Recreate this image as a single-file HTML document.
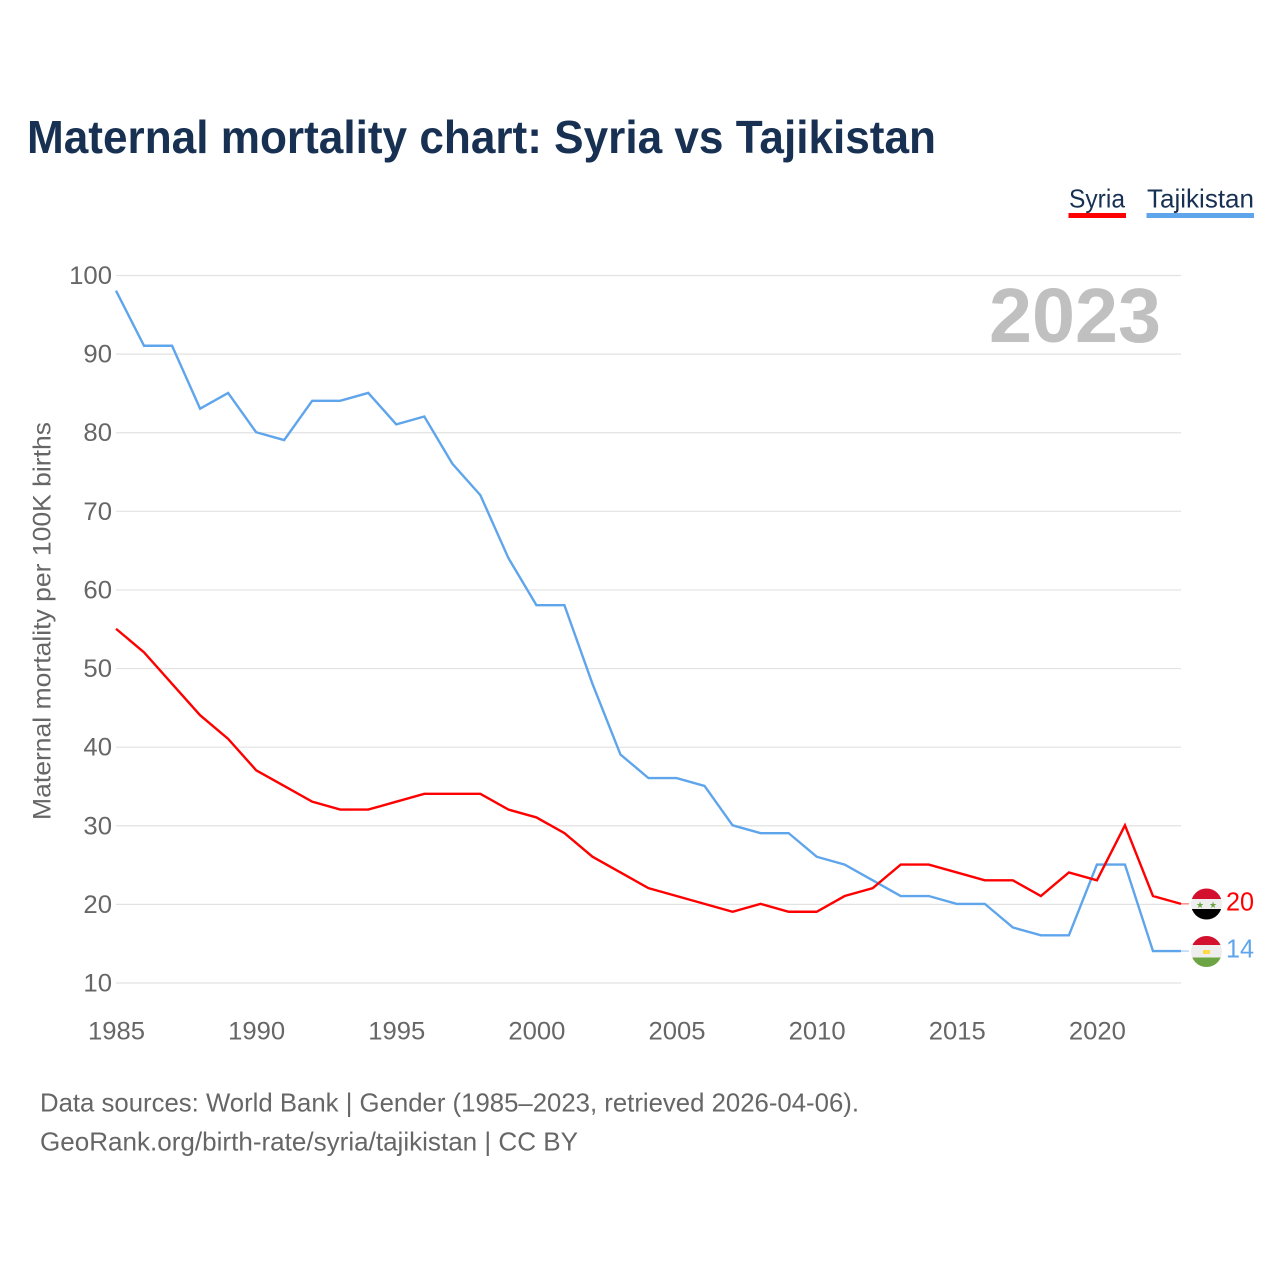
<!DOCTYPE html>
<html lang="en">
<head>
<meta charset="utf-8">
<title>Maternal mortality chart: Syria vs Tajikistan</title>
<style>
html,body{margin:0;padding:0;background:#fff;width:1280px;height:1280px;overflow:hidden}
svg{display:block}
text{font-family:"Liberation Sans",sans-serif}
</style>
</head>
<body>
<svg id="chart" xmlns="http://www.w3.org/2000/svg" width="1280" height="1280" viewBox="0 0 1280 1280">
  <defs>
    <clipPath id="clip-syria"><circle cx="1206.5" cy="904" r="15.5"/></clipPath>
    <clipPath id="clip-tajikistan"><circle cx="1206.5" cy="951.5" r="15.5"/></clipPath>
  </defs>
  <rect x="0" y="0" width="1280" height="1280" fill="#ffffff"/>
  <text x="27" y="153" font-size="46" font-weight="700" fill="#183153" textLength="909" lengthAdjust="spacingAndGlyphs">Maternal mortality chart: Syria vs Tajikistan</text>

  <g>
    <g>
      <text x="1069" y="207.5" font-size="26" fill="#183153" textLength="56" lengthAdjust="spacingAndGlyphs">Syria</text>
      <rect x="1068.5" y="213" width="57.5" height="5" fill="#ff0000"/>
    </g>
    <g>
      <text x="1147" y="207.5" font-size="26" fill="#183153" textLength="107" lengthAdjust="spacingAndGlyphs">Tajikistan</text>
      <rect x="1146.5" y="213" width="107.5" height="5" fill="#5fa5ec"/>
    </g>
  </g>

  <g id="grid"></g>
  <g id="y-ticks"></g>
  <g id="x-ticks"></g>

  <text transform="translate(50.5 820) rotate(-90)" x="0" y="0" font-size="25" fill="#666666" textLength="398" lengthAdjust="spacingAndGlyphs">Maternal mortality per 100K births</text>

  <text x="989" y="342" font-size="77" font-weight="700" fill="#c0c0c0" textLength="172" lengthAdjust="spacingAndGlyphs">2023</text>

  <g id="series" transform="translate(0 -0.5)"></g>

  <g clip-path="url(#clip-syria)">
    <rect x="1190" y="888" width="33" height="11" fill="#d3112e"/>
    <rect x="1190" y="899" width="33" height="10" fill="#eeeeee"/>
    <rect x="1190" y="909" width="33" height="11" fill="#000000"/>
    <text x="1200" y="908" font-size="9" fill="#6da544" text-anchor="middle">★</text>
    <text x="1213" y="908" font-size="9" fill="#6da544" text-anchor="middle">★</text>
  </g>
  <g clip-path="url(#clip-tajikistan)">
    <rect x="1190" y="936" width="33" height="9" fill="#d3112e"/>
    <rect x="1190" y="945" width="33" height="12.5" fill="#eeeeee"/>
    <rect x="1190" y="957.5" width="33" height="10" fill="#6da544"/>
    <rect x="1203" y="950" width="7" height="4" fill="#ffda44"/>
  </g>

  <text id="end-label-syria" x="1226" y="910.5" font-size="26" fill="#ff0000" textLength="28" lengthAdjust="spacingAndGlyphs"></text>
  <text id="end-label-tajikistan" x="1226" y="957.5" font-size="26" fill="#5fa5ec" textLength="28" lengthAdjust="spacingAndGlyphs"></text>

  <text x="40" y="1111.5" font-size="26" fill="#666666" textLength="819" lengthAdjust="spacingAndGlyphs">Data sources: World Bank | Gender (1985–2023, retrieved 2026-04-06).</text>
  <text x="40" y="1150.5" font-size="26" fill="#666666" textLength="538" lengthAdjust="spacingAndGlyphs">GeoRank.org/birth-rate/syria/tajikistan | CC BY</text>
</svg>
<script>
const years = [1985,1986,1987,1988,1989,1990,1991,1992,1993,1994,1995,1996,1997,1998,1999,2000,2001,2002,2003,2004,2005,2006,2007,2008,2009,2010,2011,2012,2013,2014,2015,2016,2017,2018,2019,2020,2021,2022,2023];
const syria = [55,52,48,44,41,37,35,33,32,32,33,34,34,34,32,31,29,26,24,22,21,20,19,20,19,19,21,22,25,25,24,23,23,21,24,23,30,21,20];
const tajikistan = [98,91,91,83,85,80,79,84,84,85,81,82,76,72,64,58,58,48,39,36,36,35,30,29,29,26,25,23,21,21,20,20,17,16,16,25,25,14,14];
const yTicks = [10,20,30,40,50,60,70,80,90,100];
const xTicks = [1985,1990,1995,2000,2005,2010,2015,2020];

const SVGNS = 'http://www.w3.org/2000/svg';
const xScale = function (year) { return 116 + (year - 1985) * (1181 - 116) / (2023 - 1985); };
const yScale = function (value) { return 983 - (value - 10) * (983 - 275.5) / (100 - 10); };

const gridGroup = document.getElementById('grid');
const yTickGroup = document.getElementById('y-ticks');
const xTickGroup = document.getElementById('x-ticks');
const seriesGroup = document.getElementById('series');

yTicks.forEach(function (tick) {
  const line = document.createElementNS(SVGNS, 'line');
  
  
  line.setAttribute('x1', 116);
  line.setAttribute('x2', 1181);
  line.setAttribute('y1', yScale(tick));
  line.setAttribute('y2', yScale(tick));
  line.setAttribute('stroke', '#e2e2e2');
  line.setAttribute('stroke-width', '1.2');
  gridGroup.appendChild(line);

  const label = document.createElementNS(SVGNS, 'text');
  
  
  const w = String(tick).length * 14.3;
  label.setAttribute('x', 112 - w);
  label.setAttribute('y', yScale(tick) + 8.5);
  label.setAttribute('font-size', '25');
  label.setAttribute('fill', '#666666');
  label.setAttribute('textLength', w);
  label.setAttribute('lengthAdjust', 'spacingAndGlyphs');
  label.textContent = tick;
  yTickGroup.appendChild(label);
});

xTicks.forEach(function (tick) {
  const label = document.createElementNS(SVGNS, 'text');
  
  
  label.setAttribute('x', xScale(tick) - 28);
  label.setAttribute('y', 1039.5);
  label.setAttribute('font-size', '25');
  label.setAttribute('fill', '#666666');
  label.setAttribute('textLength', 57);
  label.setAttribute('lengthAdjust', 'spacingAndGlyphs');
  label.textContent = tick;
  xTickGroup.appendChild(label);
});

function pointsFor(values) {
  return values.map(function (v, i) { return xScale(years[i]).toFixed(2) + ',' + yScale(v).toFixed(2); }).join(' ');
}

const tajikLine = document.createElementNS(SVGNS, 'polyline');


tajikLine.setAttribute('points', pointsFor(tajikistan));
tajikLine.setAttribute('fill', 'none');
tajikLine.setAttribute('stroke', '#5fa5ec');
tajikLine.setAttribute('stroke-width', '2.4');
seriesGroup.appendChild(tajikLine);

const syriaLine = document.createElementNS(SVGNS, 'polyline');


syriaLine.setAttribute('points', pointsFor(syria));
syriaLine.setAttribute('fill', 'none');
syriaLine.setAttribute('stroke', '#ff0000');
syriaLine.setAttribute('stroke-width', '2.4');
seriesGroup.appendChild(syriaLine);

const lastIndex = years.length - 1;

const syriaLeader = document.createElementNS(SVGNS, 'line');


syriaLeader.setAttribute('x1', xScale(years[lastIndex]));
syriaLeader.setAttribute('x2', xScale(years[lastIndex]) + 8);
syriaLeader.setAttribute('y1', yScale(syria[lastIndex]));
syriaLeader.setAttribute('y2', yScale(syria[lastIndex]));
syriaLeader.setAttribute('stroke', '#ff0000');
syriaLeader.setAttribute('stroke-opacity', '0.7');
syriaLeader.setAttribute('stroke-width', '1');
seriesGroup.appendChild(syriaLeader);

const tajikLeader = document.createElementNS(SVGNS, 'line');


tajikLeader.setAttribute('x1', xScale(years[lastIndex]));
tajikLeader.setAttribute('x2', xScale(years[lastIndex]) + 8);
tajikLeader.setAttribute('y1', yScale(tajikistan[lastIndex]));
tajikLeader.setAttribute('y2', yScale(tajikistan[lastIndex]));
tajikLeader.setAttribute('stroke', '#5fa5ec');
tajikLeader.setAttribute('stroke-opacity', '0.7');
tajikLeader.setAttribute('stroke-width', '1');
seriesGroup.appendChild(tajikLeader);

document.getElementById('end-label-syria').textContent = syria[lastIndex];
document.getElementById('end-label-tajikistan').textContent = tajikistan[lastIndex];
</script>
</body>
</html>
